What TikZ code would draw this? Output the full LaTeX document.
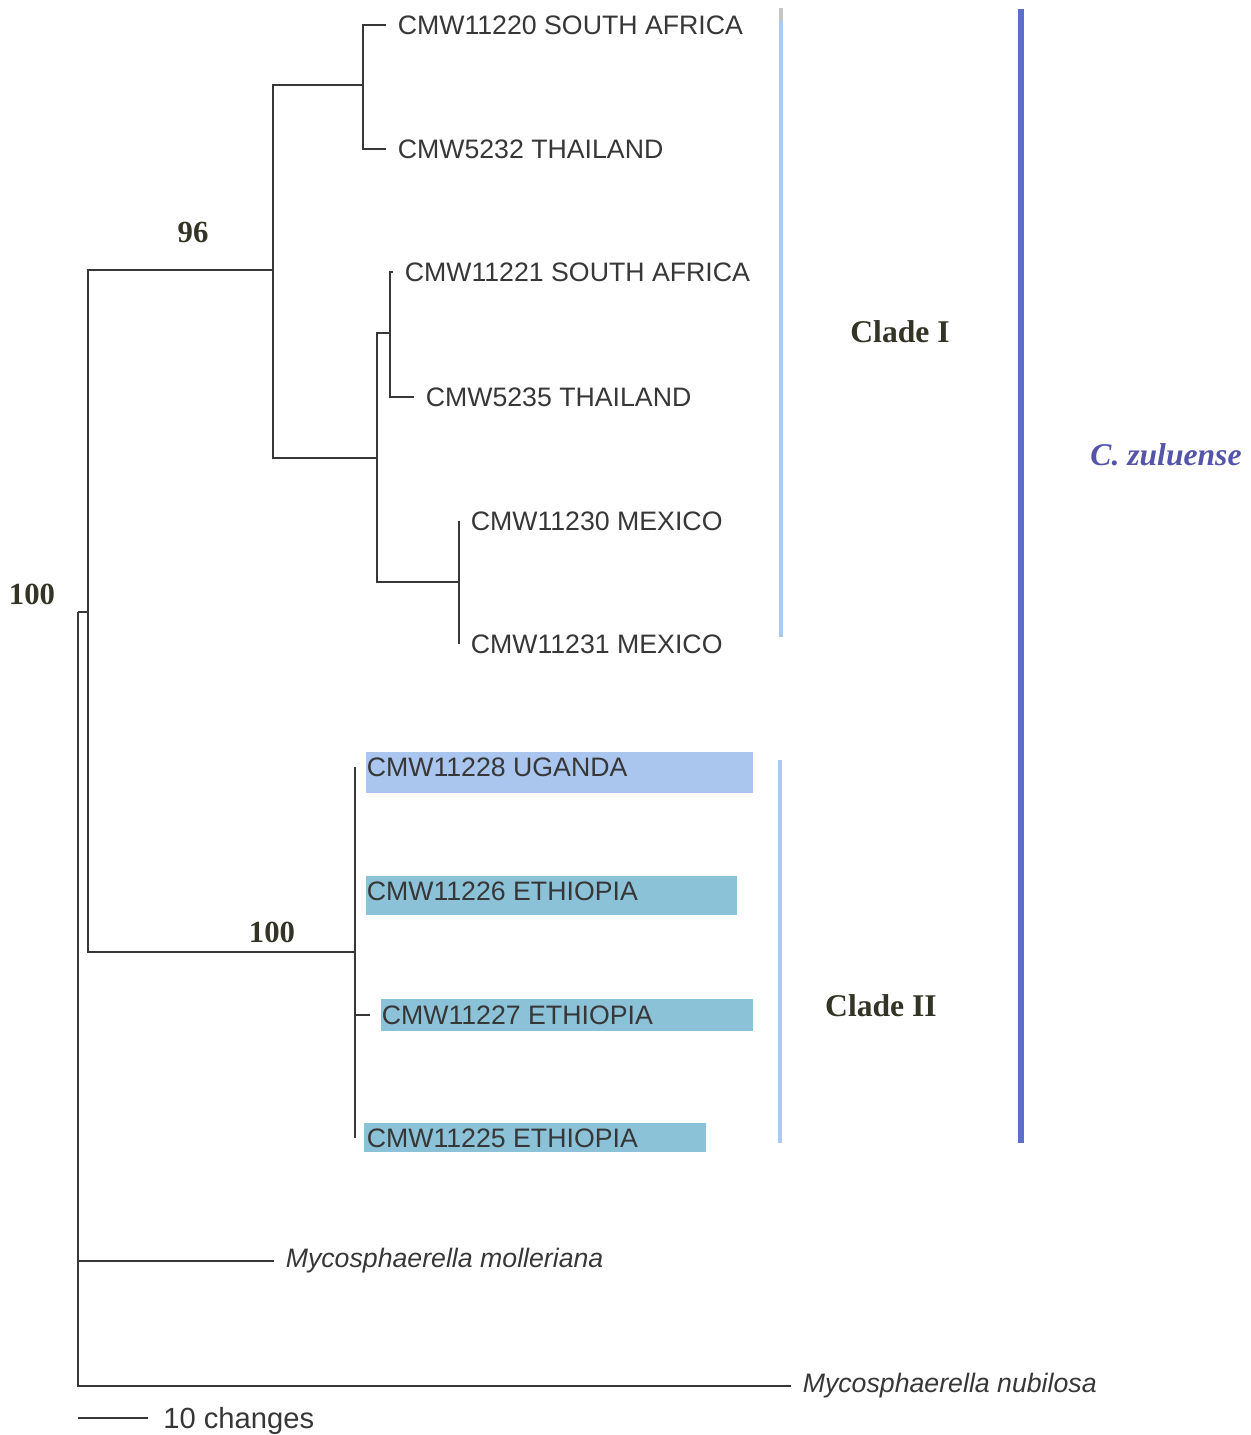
\documentclass[tikz,border=0pt]{standalone}
\usepackage{fontspec}
\setmainfont{Liberation Serif}
\setsansfont{Liberation Sans}
\usepackage{tikz}
\usetikzlibrary{positioning,calc}
\definecolor{treeline}{RGB}{55,55,55}
\definecolor{ugbar}{RGB}{170,198,238}
\definecolor{etbar}{RGB}{140,194,216}
\definecolor{cladeblue}{RGB}{172,202,240}
\definecolor{zulblue}{RGB}{92,112,200}
\definecolor{zultext}{RGB}{84,84,170}
\definecolor{bootcol}{RGB}{52,52,38}

\begin{document}
\begin{tikzpicture}[
    x=0.02cm, y=-0.02cm,
    branch/.style={draw=treeline, line width=0.8pt},
    leaf/.style={anchor=west, inner xsep=6.5pt, inner ysep=0pt, text=treeline,
                 font=\sffamily\fontsize{15.2}{18}\selectfont},
    outgroup/.style={leaf, font=\sffamily\itshape\fontsize{15.2}{18}\selectfont},
    boot/.style={font=\bfseries\fontsize{17.5}{20}\selectfont, text=bootcol},
    cladelabel/.style={font=\bfseries\fontsize{18}{20}\selectfont, text=bootcol},
    cladebar/.style={draw=cladeblue, line width=2.8pt},
    zulbar/.style={draw=zulblue, line width=3.4pt},
]
\useasboundingbox (0,0) rectangle (1250,1435);

% Internal nodes
\coordinate (root) at (78,612);
\coordinate (zul)  at (88,612);
\coordinate (cI)   at (273,270);
\coordinate (cIa)  at (363,85);
\coordinate (cIb)  at (377,458);
\coordinate (cIb1) at (390,333);
\coordinate (cIb2) at (459,582);
\coordinate (cII)  at (355,952);

% Highlight bars (Clade II)
\fill[ugbar] (366,752) rectangle (753,793);
\fill[etbar] (366,876) rectangle (737,915);
\fill[etbar] (381,999) rectangle (753,1031);
\fill[etbar] (364,1123) rectangle (706,1152);

% Clade I leaves
\node[leaf] (sa1) at (386,25)  {CMW11220 SOUTH AFRICA};
\node[leaf] (th1) at (386,149) {CMW5232 THAILAND};
\node[leaf] (sa2) at (393,272) {CMW11221 SOUTH AFRICA};
\node[leaf] (th2) at (414,397) {CMW5235 THAILAND};
\node[leaf] (mx1) at (459,521) {CMW11230 MEXICO};
\node[leaf] (mx2) at (459,644) {CMW11231 MEXICO};

% Clade II leaves
\node[leaf] (ug)  at (355,767)  {CMW11228 UGANDA};
\node[leaf] (et1) at (355,891)  {CMW11226 ETHIOPIA};
\node[leaf] (et2) at (370,1015) {CMW11227 ETHIOPIA};
\node[leaf] (et3) at (355,1138) {CMW11225 ETHIOPIA};

% Outgroups
\node[outgroup] (moll) at (274,1261) {Mycosphaerella molleriana};
\node[outgroup] (nubi) at (791,1386) {Mycosphaerella nubilosa};

% Branches
\draw[branch] (root) -- (zul);
\draw[branch] (zul) |- (cI);
\draw[branch] (zul) |- (cII);
\draw[branch] (cI) |- (cIa);
\draw[branch] (cI) |- (cIb);
\draw[branch] (cIb) |- (cIb1);
\draw[branch] (cIb) |- (cIb2);
\draw[branch] (cIa) |- (sa1.west);
\draw[branch] (cIa) |- (th1.west);
\draw[branch] (cIb1) |- (sa2.west);
\draw[branch] (cIb1) |- (th2.west);
\draw[branch] (cIb2) |- (mx1.west);
\draw[branch] (cIb2) |- (mx2.west);
\foreach \lf in {ug, et1, et2, et3}
    \draw[branch] (cII) |- (\lf.west);
\draw[branch] (root) |- (moll.west);
\draw[branch] (root) |- (nubi.west);

% Bootstrap values
\node[boot] (bs96)   at (193,232) {96};
\node[boot] (bsroot) at (32,594)  {100};
\node[boot] (bsII)   at (272,932) {100};

% Clade bars and labels
\draw[gray!45, line width=2.8pt] (781,8) -- (781,20);
\draw[cladebar] (781,20) -- (781,637);
\draw[cladebar] (780,760) -- (780,1143);
\draw[zulbar] (1021,9) -- (1021,1143);
\node[cladelabel] (cladeI)  at (900,332)  {Clade I};
\node[cladelabel] (cladeII) at (881,1006) {Clade II};
\node[font=\bfseries\itshape\fontsize{18}{20}\selectfont, text=zultext]
    (zulname) at (1166,455) {C. zuluense};

% Scale bar
\coordinate (sc0) at (78,1418);
\coordinate (sc1) at (148,1418);
\node[leaf, anchor=base west, inner xsep=0pt,
      font=\sffamily\fontsize{16.6}{18}\selectfont] (scale) at (163,1428) {10 changes};
\draw[branch] (sc0) -- (sc1);

\end{tikzpicture}
\end{document}
